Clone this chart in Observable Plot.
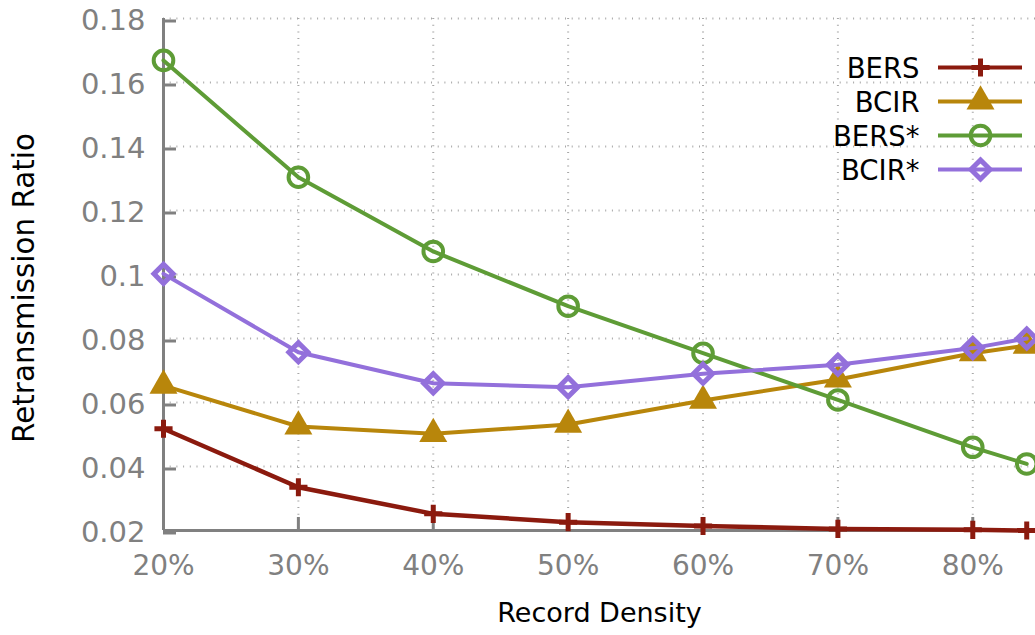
<!DOCTYPE html>
<html>
<head>
<meta charset="utf-8">
<script src="https://cdn.jsdelivr.net/npm/d3@7"></script>
<script src="https://cdn.jsdelivr.net/npm/@observablehq/plot@0.6"></script>
<style>
  html, body { margin: 0; padding: 0; background: #fff; overflow: hidden; }
  #chart { position: relative; width: 1035px; height: 635px; }
  #chart svg { position: absolute; left: 0; top: 0; }
</style>
</head>
<body>
<div id="chart"></div>
<script>
// Record density (%) on the x axis
const densities = [20, 30, 40, 50, 60, 70, 80, 84];

// Series names, in drawing / legend order
const seriesNames = ["BERS", "BCIR", "BERS*", "BCIR*"];

// Retransmission ratio per series
const bers     = [0.0518, 0.0335, 0.0252, 0.0226, 0.0214, 0.0205, 0.0202, 0.0200];
const bcir     = [0.0653, 0.0525, 0.0502, 0.0531, 0.0606, 0.0672, 0.0754, 0.0778];
const bersStar = [0.1669, 0.1304, 0.1072, 0.0901, 0.0754, 0.0608, 0.0460, 0.0408];
const bcirStar = [0.1002, 0.0757, 0.0660, 0.0648, 0.0690, 0.0718, 0.0770, 0.0800];

// Tick values
const xTicks = [20, 30, 40, 50, 60, 70, 80];
const yTicks = [0.02, 0.04, 0.06, 0.08, 0.1, 0.12, 0.14, 0.16, 0.18];

// Per-series styling
const seriesColors = ["#8b1a0e", "#b8860b", "#5e9c36", "#9370db"];
const seriesMarkers = [
  {symbol: d3.symbolPlus, r: 5.9, fill: "none", strokeWidth: 5},
  {symbol: d3.symbolTriangle, r: 10.4, fill: "color", strokeWidth: 0},
  {symbol: d3.symbolCircle, r: 9.8, fill: "none", strokeWidth: 4},
  {symbol: d3.symbolDiamond2, r: 8.6, fill: "none", strokeWidth: 5}
];

const valuesBySeries = [bers, bcir, bersStar, bcirStar];
const rows = seriesNames.flatMap((name, s) =>
  densities.map((d, i) => ({series: name, density: d, ratio: valuesBySeries[s][i]}))
);

const font = "'DejaVu Sans', Verdana, sans-serif";
const axisGrey = "#808080";

function markerOptions(s) {
  const m = seriesMarkers[s];
  const color = seriesColors[s];
  return {
    symbol: m.symbol, r: m.r,
    fill: m.fill === "color" ? color : "none",
    stroke: color, strokeWidth: m.strokeWidth
  };
}

const chart = Plot.plot({
  width: 1035,
  height: 635,
  marginLeft: 163,
  marginRight: 0,
  marginTop: 18,
  marginBottom: 105,
  x: {domain: [20, 84.65]},
  y: {domain: [0.02, 0.18]},
  style: {fontFamily: font, background: "white", overflow: "hidden"},
  marks: [
    // dotted grid
    Plot.gridX(xTicks.slice(1), {stroke: "#a8a8a8", strokeOpacity: 1, strokeWidth: 2, strokeDasharray: "1,5.7"}),
    Plot.gridY(yTicks.slice(1), {stroke: "#a8a8a8", strokeOpacity: 1, strokeWidth: 2, strokeDasharray: "1,5.7"}),
    // border on the left and bottom
    Plot.ruleX([20], {stroke: axisGrey, strokeWidth: 3}),
    Plot.ruleY([0.02], {stroke: axisGrey, strokeWidth: 3}),
    // axes with inward ticks
    Plot.axisY(yTicks, {
      tickSize: -13, tickPadding: 31, dy: 2.5,
      tickFormat: d3.format("~g"),
      stroke: axisGrey, strokeWidth: 3, fill: axisGrey,
      fontSize: 29, label: null
    }),
    Plot.axisX(xTicks, {
      tickSize: -13, tickPadding: 38,
      tickFormat: d => d + "%",
      stroke: axisGrey, strokeWidth: 3, fill: axisGrey,
      fontSize: 28, label: null
    }),
    // axis titles
    Plot.text(["Retransmission Ratio"], {
      text: d => d, frameAnchor: "left", textAnchor: "middle", rotate: -90,
      dx: -139.4, dy: 13.5, fontSize: 29.4, fill: "black"
    }),
    Plot.text(["Record Density"], {
      text: d => d, frameAnchor: "bottom", textAnchor: "middle",
      dy: 91.5, fontSize: 27, fill: "black"
    }),
    // series: line then markers, one series after another
    ...seriesNames.flatMap((name, s) => {
      const data = rows.filter(r => r.series === name);
      return [
        Plot.line(data, {
          x: "density", y: "ratio",
          stroke: seriesColors[s], strokeWidth: s === 0 ? 4.5 : 4, strokeLinejoin: "round"
        }),
        Plot.dot(data, {x: "density", y: "ratio", ...markerOptions(s)})
      ];
    })
  ]
});

// Key in the upper right: label, line sample and marker per series
const key = Plot.plot({
  width: 1035,
  height: 635,
  margin: 0,
  x: {domain: [0, 1], range: [938, 1022], axis: null},
  y: {type: "point", domain: seriesNames, range: [66.7, 170], padding: 0, axis: null},
  style: {fontFamily: font, background: "transparent"},
  marks: seriesNames.flatMap((name, s) => [
    Plot.ruleY([name], {y: d => d, x1: 0, x2: 1, stroke: seriesColors[s], strokeWidth: 4}),
    Plot.dot([name], {x: () => 0.5, y: d => d, ...markerOptions(s)}),
    Plot.text([name], {
      x: () => 0, y: d => d, text: d => d,
      textAnchor: "end", dx: -19, dy: 1.5, fontSize: 27.5, fill: "black"
    })
  ])
});
key.style.pointerEvents = "none";

const root = document.getElementById("chart");
root.appendChild(chart);
root.appendChild(key);
</script>
</body>
</html>
